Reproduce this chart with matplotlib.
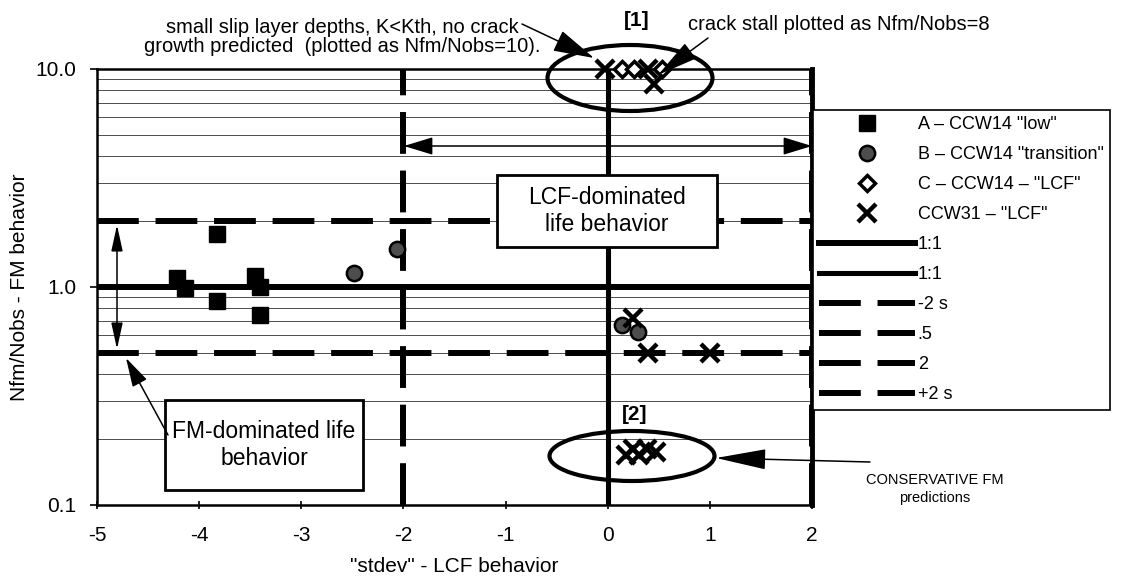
import matplotlib
matplotlib.use("Agg")
import matplotlib.pyplot as plt
from matplotlib.patches import Ellipse, Rectangle, FancyArrowPatch
from matplotlib.ticker import LogLocator, NullFormatter

W, H = 1122, 585

# ── data ─────────────────────────────────────────────────────────────────────
# A – CCW14 "low"
a_x = [-4.22, -4.14, -3.83, -3.83, -3.45, -3.40, -3.40]
a_y = [1.10, 0.99, 1.75, 0.86, 1.12, 1.00, 0.745]
# B – CCW14 "transition"
b_x = [-2.48, -2.06, 0.14, 0.30]
b_y = [1.16, 1.49, 0.67, 0.62]
# C – CCW14 – "LCF"
c_x = [0.14, 0.26, 0.53]
c_y = [10.0, 10.0, 10.0]
# CCW31 – "LCF"
d_x = [-0.03, 0.39, 0.45, 0.25, 0.39, 1.00, 0.18, 0.25, 0.31, 0.38, 0.47]
d_y = [10.0, 10.0, 8.5, 0.72, 0.50, 0.50, 0.17, 0.18, 0.17, 0.18, 0.175]

# reference lines
one_to_one = 1.0
zero_sd = 0.0
minus_2s = -2.0
plus_2s = 2.0
factor_half = 0.5
factor_two = 2.0

x_ticks = [-5, -4, -3, -2, -1, 0, 1, 2]
y_ticks = [0.1, 1.0, 10.0]
y_tick_labels = ["0.1", "1.0", "10.0"]

plt.rcParams["font.family"] = ["Liberation Sans", "DejaVu Sans"]
plt.rcParams["axes.unicode_minus"] = False

fig = plt.figure(figsize=(W / 100, H / 100), dpi=100)
ax = fig.add_axes([97 / W, 1 - 505 / H, (812 - 97) / W, (505 - 69) / H])


def fx(px):
    return px / W


def fy(py):
    return 1 - py / H


ax.set_yscale("log")
ax.set_xlim(-5, 2)
ax.set_ylim(0.1, 10)
ax.yaxis.set_minor_locator(LogLocator(base=10, subs=range(2, 10)))
ax.yaxis.set_minor_formatter(NullFormatter())
ax.grid(which="both", axis="y", color="0.3", lw=0.7, zorder=0)
ax.set_xticks(x_ticks)
ax.set_yticks(y_ticks, y_tick_labels)
ax.tick_params(axis="y", which="major", direction="out", length=5, width=1.2,
               pad=10, labelsize=15)
ax.tick_params(axis="y", which="minor", length=0)
ax.tick_params(axis="x", direction="inout", length=6, width=1.2, pad=12,
               labelsize=15)
for side in ["left", "top", "bottom"]:
    ax.spines[side].set_linewidth(1.8)
ax.spines["right"].set_linewidth(3.5)

LW = 4.3
DASH = (0, (7, 2.8))
h_11a = ax.axhline(one_to_one, color="k", lw=LW, zorder=2)
h_11b = ax.axvline(zero_sd, color="k", lw=LW * 0.85, zorder=2)
h_m2 = ax.axvline(minus_2s, color="k", lw=LW, ls=DASH, zorder=2)
h_05 = ax.axhline(factor_half, color="k", lw=LW, ls=DASH, zorder=2)
h_2 = ax.axhline(factor_two, color="k", lw=LW, ls=DASH, zorder=2)
h_p2 = ax.axvline(plus_2s, color="k", lw=LW, ls=DASH, zorder=2)

sty_a = dict(marker="s", ms=11, color="k", ls="none")
sty_b = dict(marker="o", ms=11, mfc="0.3", mec="k", mew=1.8, ls="none")
sty_c = dict(marker="D", ms=8.5, mfc="white", mec="k", mew=2.5, ls="none")
sty_d = dict(marker="x", ms=13, color="k", mew=3.2, ls="none")

h_a, = ax.plot(a_x, a_y, clip_on=False, zorder=5, **sty_a)
h_b, = ax.plot(b_x, b_y, clip_on=False, zorder=5, **sty_b)
h_c, = ax.plot(c_x, c_y, clip_on=False, zorder=6, **sty_c)
h_d, = ax.plot(d_x, d_y, clip_on=False, zorder=7, **sty_d)

handles = [h_a, h_b, h_c, h_d, h_11a, h_11b, h_m2, h_05, h_2, h_p2]
labels = ['A – CCW14 "low"', 'B – CCW14 "transition"', 'C – CCW14 – "LCF"',
          'CCW31 – "LCF"', "1:1", "1:1", "-2 s", ".5", "2", "+2 s"]
leg = fig.legend(handles, labels, loc="upper left",
                 bbox_to_anchor=(fx(813), fy(110)), fontsize=13,
                 handlelength=5.3, handletextpad=0.15, labelspacing=0.72,
                 borderpad=0.35, borderaxespad=0, fancybox=False,
                 framealpha=1, edgecolor="k")
leg.get_frame().set_linewidth(1.2)

# ── annotations (positions in image pixels) ─────────────────────────────────


def box(x0, y0, x1, y1, text, fs):
    fig.add_artist(Rectangle((fx(x0), fy(y1)), (x1 - x0) / W, (y1 - y0) / H,
                             transform=fig.transFigure, fc="white", ec="k",
                             lw=2, zorder=3))
    fig.text(fx((x0 + x1) / 2), fy((y0 + y1) / 2), text, ha="center",
             va="center", fontsize=fs, linespacing=1.2, zorder=4)


def ring(cx, cy, w, h):
    fig.add_artist(Ellipse((fx(cx), fy(cy)), w / W, h / H,
                           transform=fig.transFigure, fill=False, ec="k",
                           lw=3, zorder=4))


def arrow(tail, tip, style):
    fig.add_artist(FancyArrowPatch(
        (fx(tail[0]), fy(tail[1])), (fx(tip[0]), fy(tip[1])),
        transform=fig.transFigure, arrowstyle=style, mutation_scale=10,
        color="k", lw=1.1, shrinkA=0, shrinkB=0, zorder=5))


ring(630, 78, 165, 66)
ring(632, 456, 165, 50)
fig.text(fx(637), fy(20), "[1]", ha="center", va="center", fontsize=15,
         fontweight="bold")
fig.text(fx(635), fy(414), "[2]", ha="center", va="center", fontsize=15,
         fontweight="bold")

fig.text(fx(342), fy(37),
         "small slip layer depths, K<Kth, no crack\n"
         "growth predicted  (plotted as Nfm/Nobs=10).",
         ha="center", va="center", fontsize=14.5, linespacing=1.05)
arrow((522, 24), (594, 58), "-|>,head_length=2.6,head_width=0.7")

fig.text(fx(688), fy(24), "crack stall plotted as Nfm/Nobs=8",
         ha="left", va="center", fontsize=14.5)
arrow((708, 38), (658, 75), "-|>,head_length=2.6,head_width=0.6")

box(497, 175, 717, 247, "LCF-dominated\nlife behavior", 16.5)
arrow((404, 146), (812, 146), "<|-|>,head_length=1.8,head_width=0.55")

box(165, 400, 363, 490, "FM-dominated life\nbehavior", 16.5)
arrow((117, 225), (117, 349), "<|-|>,head_length=1.6,head_width=0.35")
arrow((168, 435), (126, 358), "-|>,head_length=1.8,head_width=0.5")

fig.text(fx(935), fy(489), "CONSERVATIVE FM\npredictions", ha="center",
         va="center", fontsize=10.5, linespacing=1.3)
arrow((870, 462), (716, 458), "-|>,head_length=3.2,head_width=0.65")

fig.text(fx(20), fy(287), "Nfm/Nobs - FM behavior", rotation=90,
         ha="center", va="center", fontsize=15)
fig.text(fx(454), fy(567), '"stdev" - LCF behavior', ha="center",
         va="center", fontsize=15)

fig.savefig("out.png", dpi=100)
